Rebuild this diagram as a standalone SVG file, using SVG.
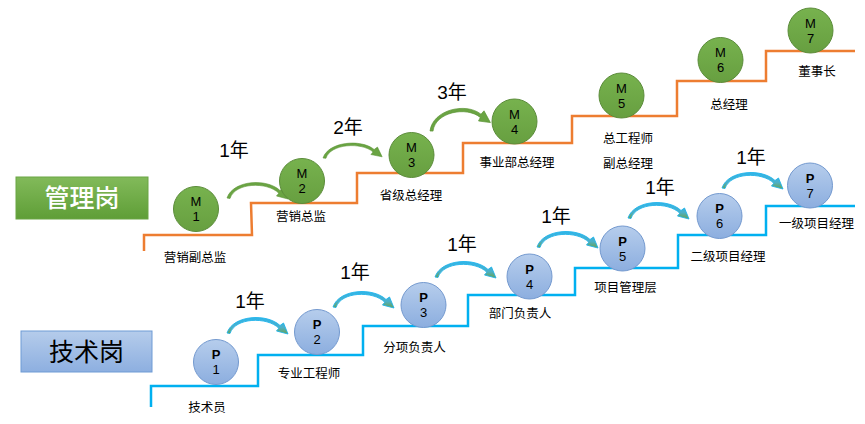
<svg xmlns="http://www.w3.org/2000/svg" xmlns:xlink="http://www.w3.org/1999/xlink" width="865" height="424" viewBox="0 0 865 424">
<style>
.lbl{font-family:"Noto Sans CJK SC","Noto Sans",sans-serif;font-size:12.5px;fill:#000;text-anchor:middle}
.yr{font-family:"Liberation Sans","Noto Sans CJK SC",sans-serif;font-size:19px;fill:#000;text-anchor:middle}
.ct{font-family:"Liberation Sans",Arial,sans-serif;font-size:13px;fill:#000;text-anchor:middle}
.ctb{font-family:"Liberation Sans",Arial,sans-serif;font-size:13px;fill:#000;text-anchor:middle;font-weight:bold}
.gc{fill:url(#gGreen);stroke:#5B8C3A;stroke-width:1}
.bc{fill:url(#gBlue);stroke:#7399CF;stroke-width:1}
.stO{fill:none;stroke:#ED7D31;stroke-width:2.5}
.stB{fill:none;stroke:#00B0F0;stroke-width:2.5}
.ag{fill:#6AA443;stroke:#5A9334;stroke-width:0.6}
.ab{fill:url(#gArrow);stroke:#1EB2EA;stroke-width:0.9}
</style>
<defs>
<linearGradient id="gGreen" x1="0" y1="0" x2="0" y2="1">
<stop offset="0" stop-color="#77B24E"/><stop offset="1" stop-color="#679F40"/>
</linearGradient>
<linearGradient id="gBlue" x1="0" y1="0" x2="0" y2="1">
<stop offset="0" stop-color="#B6CDEC"/><stop offset="1" stop-color="#8CAEDF"/>
</linearGradient>
<linearGradient id="gBoxG" x1="0" y1="0" x2="0" y2="1">
<stop offset="0" stop-color="#82BA5A"/><stop offset="1" stop-color="#5F9E37"/>
</linearGradient>
<linearGradient id="gBoxB" x1="0" y1="0" x2="0" y2="1">
<stop offset="0" stop-color="#B5CCEB"/><stop offset="1" stop-color="#8DAFE0"/>
</linearGradient>
<linearGradient id="gArrow" x1="0" y1="0" x2="0" y2="1">
<stop offset="0" stop-color="#30B6EA"/><stop offset="0.6" stop-color="#4CB0C8"/><stop offset="1" stop-color="#6BA34A"/>
</linearGradient>
<path id="arr" d="M0,0 C6,-18 40,-20 53,-7.5 L56.5,-10 L61,1 L49.5,-2 L51.8,-4.8 C40,-16.5 8,-15.5 3,0.5 Z"/>
</defs>

<g id="box-mgmt">
<rect x="16" y="177" width="132" height="42" fill="url(#gBoxG)" stroke="#6BA544" stroke-width="1"/>
<text x="82" y="207" style="font-family:'Noto Sans CJK SC',sans-serif;font-size:25px;fill:#fff;text-anchor:middle;font-weight:500">管理岗</text>
</g>
<g id="box-tech">
<rect x="21" y="331" width="131" height="41" fill="url(#gBoxB)" stroke="#6E9BD5" stroke-width="1"/>
<text x="86.5" y="361" style="font-family:'Noto Sans CJK SC',sans-serif;font-size:25px;fill:#000;text-anchor:middle">技术岗</text>
</g>

<g id="connectors">
<polyline class="stO" points="144,251 144,235 252,235 251,203 357,203 357,173 463,173 463,143 572,143 572,116 677,116 677,81 766,81 766,51 855,51"/>
<polyline class="stB" points="151,407 151,386 258,386 258,355 363,355 363,326 468,326 468,295 575,295 575,268 678,268 678,235 766,235 766,206 855,206"/>
<use href="#arr" class="ag" transform="translate(227,198)"/>
<use href="#arr" class="ag" transform="translate(323,158) rotate(-2) scale(0.97,0.9)"/>
<use href="#arr" class="ag" transform="translate(430,131) rotate(-9) scale(1,1.15)"/>
<use href="#arr" class="ab" transform="translate(227,333)"/>
<use href="#arr" class="ab" transform="translate(333,307)"/>
<use href="#arr" class="ab" transform="translate(435,277)"/>
<use href="#arr" class="ab" transform="translate(537,247)"/>
<use href="#arr" class="ab" transform="translate(628,218)"/>
<use href="#arr" class="ab" transform="translate(722,188)"/>
<text class="yr" x="234" y="157">1年</text>
<text class="yr" x="348" y="134">2年</text>
<text class="yr" x="452" y="99">3年</text>
<text class="yr" x="250" y="308">1年</text>
<text class="yr" x="355" y="279">1年</text>
<text class="yr" x="462" y="251">1年</text>
<text class="yr" x="556" y="223">1年</text>
<text class="yr" x="660" y="194">1年</text>
<text class="yr" x="751" y="164">1年</text>
</g>

<g id="M1"><circle class="gc" cx="196" cy="209" r="22.5"/><text class="ct" x="196" y="206">M</text><text class="ct" x="196" y="221">1</text><text class="lbl" x="195" y="261.5">营销副总监</text></g>
<g id="M2"><circle class="gc" cx="302" cy="181" r="22.5"/><text class="ct" x="302" y="178">M</text><text class="ct" x="302" y="193">2</text><text class="lbl" x="301" y="220.5">营销总监</text></g>
<g id="M3"><circle class="gc" cx="411.5" cy="155" r="22.5"/><text class="ct" x="411.5" y="152">M</text><text class="ct" x="411.5" y="167">3</text><text class="lbl" x="411" y="199.5">省级总经理</text></g>
<g id="M4"><circle class="gc" cx="514.5" cy="121.5" r="22.5"/><text class="ct" x="514.5" y="118.5">M</text><text class="ct" x="514.5" y="133.5">4</text><text class="lbl" x="517" y="166.5">事业部总经理</text></g>
<g id="M5"><circle class="gc" cx="621.5" cy="95.5" r="22.5"/><text class="ct" x="621.5" y="92.5">M</text><text class="ct" x="621.5" y="107.5">5</text><text class="lbl" x="628" y="142.5">总工程师</text><text class="lbl" x="628" y="167.5">副总经理</text></g>
<g id="M6"><circle class="gc" cx="720.5" cy="60" r="22.5"/><text class="ct" x="720.5" y="57">M</text><text class="ct" x="720.5" y="72">6</text><text class="lbl" x="729" y="108.5">总经理</text></g>
<g id="M7"><circle class="gc" cx="810.5" cy="30.5" r="22.5"/><text class="ct" x="810.5" y="27.5">M</text><text class="ct" x="810.5" y="42.5">7</text><text class="lbl" x="817" y="75.5">董事长</text></g>

<g id="P1"><circle class="bc" cx="216" cy="362" r="22.5"/><text class="ctb" x="216" y="359">P</text><text class="ct" x="216" y="374">1</text><text class="lbl" x="207" y="411.5">技术员</text></g>
<g id="P2"><circle class="bc" cx="317" cy="332" r="22.5"/><text class="ctb" x="317" y="329">P</text><text class="ct" x="317" y="344">2</text><text class="lbl" x="309" y="377.5">专业工程师</text></g>
<g id="P3"><circle class="bc" cx="423.5" cy="305" r="22.5"/><text class="ctb" x="423.5" y="302">P</text><text class="ct" x="423.5" y="317">3</text><text class="lbl" x="414.5" y="351.5">分项负责人</text></g>
<g id="P4"><circle class="bc" cx="529.5" cy="276.5" r="22.5"/><text class="ctb" x="529.5" y="273.5">P</text><text class="ct" x="529.5" y="288.5">4</text><text class="lbl" x="520" y="317.5">部门负责人</text></g>
<g id="P5"><circle class="bc" cx="622.5" cy="248.5" r="22.5"/><text class="ctb" x="622.5" y="245.5">P</text><text class="ct" x="622.5" y="260.5">5</text><text class="lbl" x="625.5" y="291.5">项目管理层</text></g>
<g id="P6"><circle class="bc" cx="719.5" cy="216" r="22.5"/><text class="ctb" x="719.5" y="213">P</text><text class="ct" x="719.5" y="228">6</text><text class="lbl" x="728" y="260.5">二级项目经理</text></g>
<g id="P7"><circle class="bc" cx="810" cy="185.5" r="22.5"/><text class="ctb" x="810" y="182.5">P</text><text class="ct" x="810" y="197.5">7</text><text class="lbl" x="816.5" y="227.5">一级项目经理</text></g>
</svg>
